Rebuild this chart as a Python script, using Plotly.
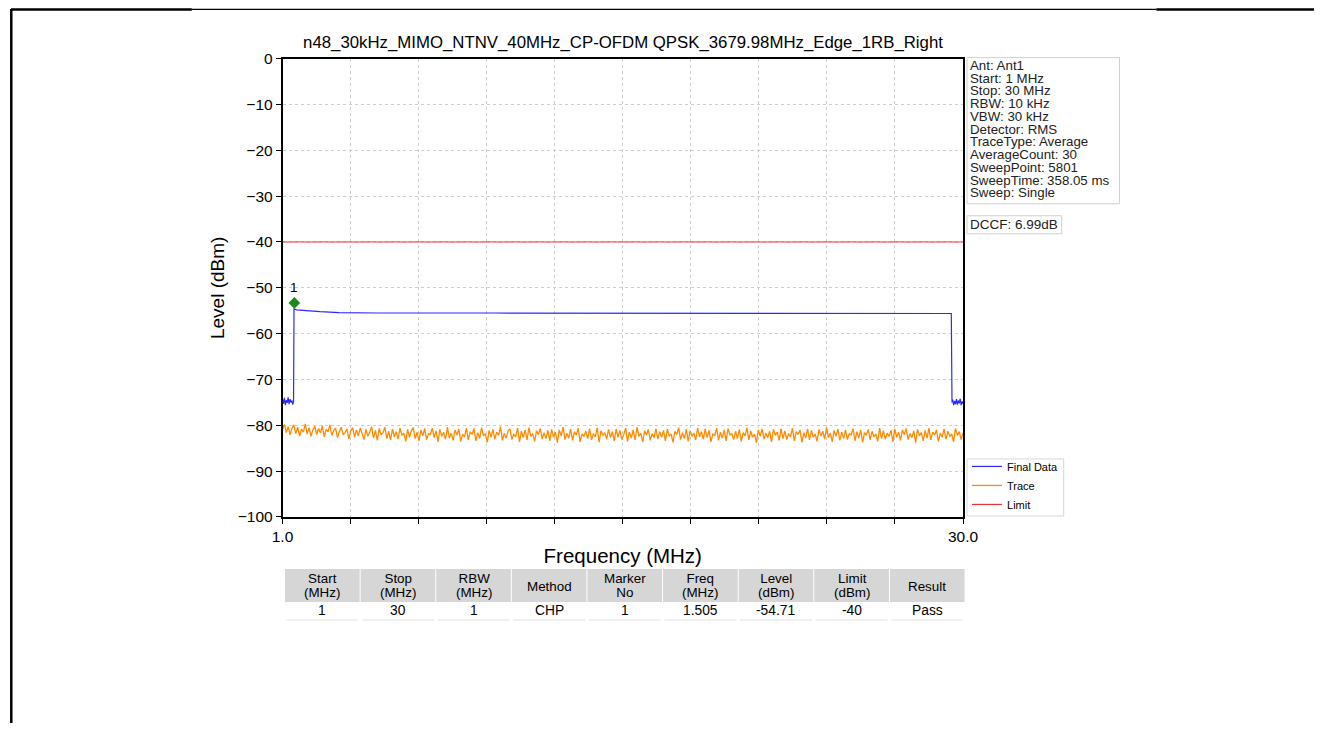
import numpy as np
import plotly.graph_objects as go

W, H = 1329, 731
FONT = "Liberation Sans, Arial, sans-serif"

# ---------------- data ----------------
title_text = "n48_30kHz_MIMO_NTNV_40MHz_CP-OFDM QPSK_3679.98MHz_Edge_1RB_Right"

final_freq = [1.00, 1.04, 1.08, 1.12, 1.16, 1.20, 1.24, 1.28, 1.32, 1.36, 1.40, 1.44,
              1.47, 1.49, 1.60, 2.00, 2.60, 3.40, 5.00, 10.0, 20.0, 29.50,
              29.53, 29.56, 29.60, 29.64, 29.68, 29.72, 29.76, 29.80, 29.84, 29.88, 29.92, 29.96, 30.0]
final_level = [-74.2, -75.3, -74.0, -75.6, -74.5, -75.1, -73.9, -75.4, -74.3, -75.0, -74.6, -75.5,
               -74.8, -54.6, -54.8, -55.0, -55.2, -55.4, -55.5, -55.5, -55.5, -55.6,
               -75.0, -74.4, -75.6, -74.7, -75.4, -74.3, -75.5, -74.6, -75.2, -74.2, -75.6, -74.8, -75.3]

trace_start, trace_stop = 1.0, 30.0
trace_level = [
    -80.9, -79.8, -81.6, -80.3, -82.1, -80.6, -79.9, -81.8, -80.4, -82.3, -80.8, -81.5, -79.7, -81.9, -80.5, -82.4, -81.0, -80.2, -82.0, -80.7,
    -81.7, -80.1, -82.5, -80.9, -81.4, -79.9, -82.2, -81.1, -80.6, -82.7, -81.3, -80.4, -82.0, -81.6, -80.8, -83.0, -81.2, -80.5, -82.6, -81.0,
    -82.3, -80.6, -81.8, -83.1, -80.9, -82.4, -81.5, -80.3, -82.8, -81.1, -83.3, -80.7, -82.1, -81.6, -80.4, -82.9, -81.3, -83.2, -80.8, -82.5,
    -81.4, -83.0, -80.6, -82.2, -81.7, -83.5, -80.9, -82.6, -81.2, -80.5, -82.9, -81.5, -83.4, -81.0, -82.3, -80.7, -83.1, -81.8, -82.0, -80.6,
    -82.7, -81.2, -83.6, -80.9, -82.4, -81.5, -83.0, -80.4, -82.8, -81.7, -83.3, -81.0, -82.1, -80.8, -83.5, -81.9, -82.5, -80.6, -83.2, -81.4,
    -82.0, -80.7, -83.4, -81.6, -82.9, -80.5, -82.3, -81.8, -83.7, -81.1, -82.6, -80.9, -83.0, -81.5, -82.2, -80.3, -83.3, -81.7, -82.8, -81.2,
    -80.8, -83.1, -81.9, -82.5, -80.6, -83.6, -81.3, -82.7, -81.0, -83.2, -80.5, -82.4, -81.8, -83.5, -81.2, -82.0, -80.7, -83.0, -81.6, -82.9,
    -81.1, -83.4, -80.9, -82.6, -81.5, -83.8, -81.0, -82.3, -80.4, -83.1, -81.7, -82.8, -80.8, -83.3, -81.4, -82.1, -80.6, -83.6, -81.9, -82.4,
    -81.3, -82.9, -80.7, -83.2, -81.8, -82.5, -80.5, -83.7, -81.2, -82.2, -81.6, -83.0, -80.9, -82.7, -81.4, -83.4, -80.8, -82.6, -81.1, -83.1,
    -82.0, -80.6, -83.5, -81.5, -82.8, -81.0, -83.2, -80.4, -82.4, -81.7, -83.6, -81.2, -82.1, -80.9, -83.3, -81.8, -82.7, -80.7, -83.0, -81.4,
    -82.6, -81.1, -83.4, -80.8, -82.3, -81.9, -83.7, -81.3, -82.0, -80.5, -83.1, -81.6, -82.9, -80.9, -83.5, -81.2, -82.4, -81.7, -83.2, -80.6,
    -82.5, -81.4, -83.0, -80.8, -82.7, -81.1, -83.6, -81.9, -82.2, -80.6, -83.3, -81.5, -82.8, -81.0, -83.4, -80.7, -82.1, -81.8, -83.1, -81.3,
    -82.9, -80.9, -83.5, -81.6, -82.3, -80.5, -83.2, -81.2, -82.6, -81.9, -83.8, -81.0, -82.4, -80.8, -83.0, -81.7, -82.7, -81.3, -83.6, -80.9,
    -82.2, -81.5, -83.3, -80.7, -82.9, -81.2, -83.1, -81.8, -82.5, -80.6, -83.4, -81.4, -82.0, -81.0, -83.7, -81.6, -82.8, -80.8, -83.2, -81.1,
    -82.6, -81.9, -83.5, -80.9, -82.3, -81.3, -83.0, -80.5, -82.7, -81.7, -83.6, -81.1, -82.4, -80.8, -83.3, -81.5, -82.9, -81.0, -83.1, -81.8,
    -82.1, -80.7, -83.4, -81.4, -82.8, -81.0, -83.7, -81.6, -82.2, -80.9, -83.2, -81.3, -82.5, -81.9, -83.5, -80.6, -82.9, -81.2, -83.0, -81.7,
    -82.4, -81.1, -83.6, -80.8, -82.6, -81.5, -83.3, -81.0, -82.0, -80.7, -83.1, -81.8, -82.7, -81.2, -83.8, -80.9, -82.3, -81.6, -83.4, -81.1,
    -82.8, -80.6, -83.2, -81.5, -82.1, -81.0, -83.5, -81.7, -82.6, -80.8, -83.0, -81.3, -82.4, -81.9, -83.6, -80.7, -82.2, -81.4, -83.1, -81.6,
]

limit_freq = [1.0, 30.0]
limit_level = [-40, -40]

marker_freq = [1.505]
marker_level = [-53.3]
marker_label = ["1"]

x_tick_vals = [1.0, 3.9, 6.8, 9.7, 12.6, 15.5, 18.4, 21.3, 24.2, 27.1, 30.0]
x_tick_text = ["1.0", "", "", "", "", "", "", "", "", "", "30.0"]
y_tick_vals = [0, -10, -20, -30, -40, -50, -60, -70, -80, -90, -100]

info_lines = ["Ant: Ant1", "Start: 1 MHz", "Stop: 30 MHz", "RBW: 10 kHz", "VBW: 30 kHz",
              "Detector: RMS", "TraceType: Average", "AverageCount: 30", "SweepPoint: 5801",
              "SweepTime: 358.05 ms", "Sweep: Single"]
dccf_text = "DCCF: 6.99dB"

table_header = [["Start", "(MHz)"], ["Stop", "(MHz)"], ["RBW", "(MHz)"], ["Method"], ["Marker", "No"],
                ["Freq", "(MHz)"], ["Level", "(dBm)"], ["Limit", "(dBm)"], ["Result"]]
table_row = ["1", "30", "1", "CHP", "1", "1.505", "-54.71", "-40", "Pass"]

# ---------------- helpers: target picture pixel -> paper fraction ----------------
SX, OX, SY, OY = 0.984, 8.5, 0.976, 8.4


def fx(px):
    return ((px - OX) / SX) / W


def fy(py):
    return 1 - ((py - OY) / SY) / H


def stacked(lines, size):
    return "<br>".join("<span style='font-size:%.1fpx'>%s</span>" % (size, t) for t in lines)


trace_freq = np.linspace(trace_start, trace_stop, len(trace_level))

fig = go.Figure()
fig.add_trace(go.Scatter(x=final_freq, y=final_level, mode="lines", name="Final Data",
                         line=dict(color="#2a2aff", width=1.2)))
fig.add_trace(go.Scatter(x=trace_freq, y=trace_level, mode="lines", name="Trace",
                         line=dict(color="#ff8a00", width=1.3)))
fig.add_trace(go.Scatter(x=limit_freq, y=limit_level, mode="lines", name="Limit",
                         line=dict(color="#f0303a", width=1.2)))
fig.add_trace(go.Scatter(x=marker_freq, y=marker_level, mode="markers", showlegend=False,
                         marker=dict(color="#1a8a1a", size=9, symbol="diamond")))

annotations = []
shapes = []

# marker label
for xv, yv, lab in zip(marker_freq, marker_level, marker_label):
    annotations.append(dict(x=xv, y=yv, xref="x", yref="y", text=lab, showarrow=False,
                            yshift=15, font=dict(family=FONT, size=13.5, color="black")))

# info box (one text block, tight line spacing)
annotations.append(dict(x=fx(970), y=fy(56), xref="paper", yref="paper",
                        text=stacked(info_lines, 13.3), showarrow=False, xanchor="left",
                        yanchor="top", align="left", borderpad=0,
                        font=dict(family=FONT, size=9.8, color="#222")))
annotations.append(dict(x=fx(970), y=fy(223.5), xref="paper", yref="paper", text=dccf_text,
                        showarrow=False, xanchor="left", yanchor="middle", borderpad=0,
                        font=dict(family=FONT, size=13.5, color="#222")))
shapes += [
    dict(type="rect", xref="paper", yref="paper", x0=fx(968), x1=fx(1121), y0=fy(57), y1=fy(203),
         line=dict(color="#d0d0d0", width=1), fillcolor="rgba(255,255,255,0)"),
    dict(type="rect", xref="paper", yref="paper", x0=fx(968), x1=fx(1063), y0=fy(215), y1=fy(233),
         line=dict(color="#d0d0d0", width=1), fillcolor="rgba(255,255,255,0)"),
    # legend frame (legend entries are drawn on top of it)
    dict(type="rect", xref="paper", yref="paper", x0=fx(968), x1=fx(1065), y0=fy(515), y1=fy(458),
         line=dict(color="#d8d8d8", width=1), fillcolor="white", layer="above"),
]

# results table (drawn cell by cell)
tx0, tx1 = 283.0, 966.0
cw = (tx1 - tx0) / len(table_row)
hy0, hy1, ry1 = 568.0, 601.0, 619.0
for j, (hdr, val) in enumerate(zip(table_header, table_row)):
    cx0 = tx0 + j * cw
    cx1 = cx0 + cw
    cc = (cx0 + cx1) / 2
    shapes.append(dict(type="rect", xref="paper", yref="paper", x0=fx(cx0 + 0.5), x1=fx(cx1 - 0.5),
                       y0=fy(hy1), y1=fy(hy0), line=dict(width=0), fillcolor="#d6d6d6", layer="below"))
    shapes.append(dict(type="line", xref="paper", yref="paper", x0=fx(cx0 + 2), x1=fx(cx1 - 2),
                       y0=fy(ry1), y1=fy(ry1), line=dict(color="#e2e2e2", width=1)))
    if len(hdr) == 2:
        annotations.append(dict(x=fx(cc), y=fy(584), xref="paper", yref="paper",
                                text=stacked(hdr, 13.4), showarrow=False, xanchor="center",
                                yanchor="middle", borderpad=0,
                                font=dict(family=FONT, size=10.9, color="black")))
    else:
        annotations.append(dict(x=fx(cc), y=fy(585), xref="paper", yref="paper", text=hdr[0],
                                showarrow=False, xanchor="center", yanchor="middle", borderpad=0,
                                font=dict(family=FONT, size=13.4, color="black")))
    annotations.append(dict(x=fx(cc), y=fy(609.5), xref="paper", yref="paper", text=val,
                            showarrow=False, xanchor="center", yanchor="middle", borderpad=0,
                            font=dict(family=FONT, size=13.8, color="black")))

# page frame
shapes += [
    dict(type="line", xref="paper", yref="paper", x0=0.3 / W, x1=0.3 / W, y0=1, y1=0,
         line=dict(color="black", width=2.5)),
    dict(type="line", xref="paper", yref="paper", x0=0, x1=fx(190), y0=1 - 0.6 / H, y1=1 - 0.6 / H,
         line=dict(color="black", width=2.5)),
    dict(type="line", xref="paper", yref="paper", x0=fx(190), x1=fx(1158), y0=1 - 0.3 / H,
         y1=1 - 0.3 / H, line=dict(color="black", width=1.2)),
    dict(type="line", xref="paper", yref="paper", x0=fx(1158), x1=1, y0=1 - 0.6 / H, y1=1 - 0.6 / H,
         line=dict(color="black", width=2.5)),
]

fig.update_layout(
    width=W, height=H,
    margin=dict(l=0, r=0, t=0, b=0),
    paper_bgcolor="white", plot_bgcolor="white",
    font=dict(family=FONT, color="black"),
    title=dict(text=title_text, x=623 / W, y=1 - 42 / H, xanchor="center", yanchor="middle",
               font=dict(family=FONT, size=16.8, color="black")),
    xaxis=dict(domain=[fx(281), fx(964)], range=[1.0, 30.0], tickvals=x_tick_vals,
               ticktext=x_tick_text, ticks="outside", ticklen=5, tickwidth=1.2, tickcolor="black",
               showline=True, linecolor="black", linewidth=1.5, mirror=True,
               showgrid=True, gridcolor="#cfcfcf", griddash="dot", gridwidth=1, zeroline=False,
               tickfont=dict(family=FONT, size=15.5),
               title=dict(text="Frequency (MHz)", font=dict(family=FONT, size=20.5), standoff=4)),
    yaxis=dict(domain=[fy(516), fy(58)], range=[-100, 0], tickvals=y_tick_vals,
               ticks="outside", ticklen=5, tickwidth=1.2, tickcolor="black",
               showline=True, linecolor="black", linewidth=1.5, mirror=True,
               showgrid=True, gridcolor="#cfcfcf", griddash="dot", gridwidth=1, zeroline=False,
               tickfont=dict(family=FONT, size=15.5),
               title=dict(text="Level (dBm)", font=dict(family=FONT, size=19), standoff=8)),
    legend=dict(x=fx(968), y=fy(451), xanchor="left", yanchor="top", bgcolor="rgba(0,0,0,0)",
                borderwidth=0, font=dict(family=FONT, size=11),
                itemwidth=30, tracegroupgap=0),
    annotations=annotations,
    shapes=shapes,
)

fig.write_html("out.html", config={"displayModeBar": False},
               post_script="document.body.style.margin='0px';")
